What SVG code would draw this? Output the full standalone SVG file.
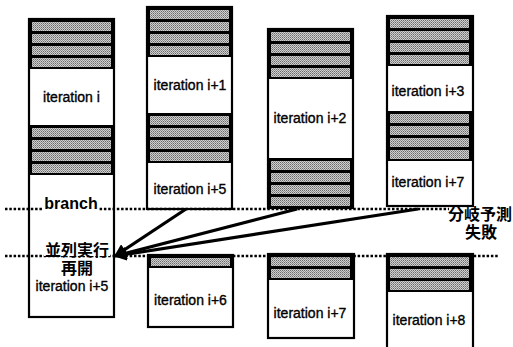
<svg xmlns="http://www.w3.org/2000/svg" xmlns:xlink="http://www.w3.org/1999/xlink" width="513" height="347" viewBox="0 0 513 347">
<style>
.box{fill:#fff;stroke:#000;stroke-width:2.2}
.lbl{font-family:"Liberation Sans",Arial,sans-serif;font-size:14px;fill:#000;text-anchor:middle;stroke:#000;stroke-width:0.35}
.jp{font-family:"Liberation Sans","Noto Sans CJK JP","Noto Sans CJK SC",sans-serif;font-size:16px;font-weight:bold;fill:#000;text-anchor:middle}
.dot{stroke:#000;stroke-width:2.6;stroke-dasharray:2.5 1.8;fill:none}
.arr{stroke:#000;stroke-width:3.2;fill:none;marker-end:url(#ah)}
</style>
<defs>
<pattern id="dots" width="2" height="2" patternUnits="userSpaceOnUse">
<rect width="2" height="2" fill="#d0d0d0"/><rect width="1" height="1" fill="#6a6a6a"/><rect x="1" y="1" width="1" height="1" fill="#909090"/>
</pattern>
<marker id="ah" viewBox="0 0 10 10" refX="9" refY="5" markerWidth="4" markerHeight="4" orient="auto" markerUnits="strokeWidth">
<path d="M0,0 L10,5 L0,10 z" fill="#000"/>
</marker>
<g id="blk1"><rect width="85" height="13" fill="#000"/><rect x="3" y="3" width="79" height="8" fill="url(#dots)"/></g>
<g id="blk2"><rect width="85" height="26" fill="#000"/><rect x="3" y="3" width="79" height="9" fill="url(#dots)"/><rect x="3" y="15" width="79" height="9" fill="url(#dots)"/></g>
<g id="blk3"><rect width="85" height="38" fill="#000"/><rect x="3" y="3" width="79" height="9" fill="url(#dots)"/><rect x="3" y="15" width="79" height="9" fill="url(#dots)"/><rect x="3" y="27" width="79" height="9" fill="url(#dots)"/></g>
<g id="blk4"><rect width="85" height="50" fill="#000"/><rect x="3" y="3" width="79" height="9" fill="url(#dots)"/><rect x="3" y="15" width="79" height="9" fill="url(#dots)"/><rect x="3" y="27" width="79" height="9" fill="url(#dots)"/><rect x="3" y="39" width="79" height="9" fill="url(#dots)"/></g>
</defs>
<rect width="513" height="347" fill="#fff"/>

<g id="col1">
<rect class="box" x="29" y="19" width="85" height="298"/>
<use xlink:href="#blk4" x="29" y="19"/>
<use xlink:href="#blk4" x="29" y="125"/>
<text class="lbl" x="71.5" y="102">iteration i</text>
</g>
<g id="col2">
<rect class="box" x="147" y="7" width="85" height="202"/>
<use xlink:href="#blk4" x="147" y="7"/>
<use xlink:href="#blk4" x="147" y="113"/>
<text class="lbl" x="190" y="90">iteration i+1</text>
<text class="lbl" x="190" y="194">iteration i+5</text>
</g>
<g id="col3">
<rect class="box" x="268" y="29" width="85" height="179"/>
<use xlink:href="#blk4" x="268" y="29"/>
<use xlink:href="#blk4" x="268" y="158"/>
<text class="lbl" x="310" y="123">iteration i+2</text>
</g>
<g id="col4">
<rect class="box" x="387" y="16" width="86" height="190"/>
<use xlink:href="#blk4" x="387" y="16"/>
<use xlink:href="#blk4" x="387" y="111"/>
<text class="lbl" x="428" y="96">iteration i+3</text>
<text class="lbl" x="428" y="187">iteration i+7</text>
</g>
<g id="col2b">
<rect class="box" x="148" y="255" width="85" height="72"/>
<use xlink:href="#blk1" x="148" y="255"/>
<text class="lbl" x="190.5" y="305">iteration i+6</text>
</g>
<g id="col3b">
<rect class="box" x="268" y="254" width="86" height="84"/>
<use xlink:href="#blk2" x="268" y="254"/>
<text class="lbl" x="310" y="318">iteration i+7</text>
</g>
<g id="col4b">
<rect class="box" x="387" y="254" width="86" height="100"/>
<use xlink:href="#blk3" x="387" y="254"/>
<text class="lbl" x="429" y="325">iteration i+8</text>
</g>

<g id="connectors">
<line class="dot" x1="5" y1="209" x2="449" y2="209"/>
<line class="dot" x1="5" y1="256" x2="498" y2="256"/>
<line class="arr" x1="186" y1="209" x2="115" y2="256"/>
<line class="arr" x1="297" y1="209" x2="115" y2="256"/>
<line class="arr" x1="418" y1="209" x2="115" y2="256"/>
</g>

<g id="labels">
<rect x="43" y="196" width="56" height="16" fill="#fff"/>
<text x="71" y="209" font-family="Liberation Sans,Arial,sans-serif" font-size="16" font-weight="bold" text-anchor="middle">branch</text>
<rect x="44" y="242" width="66" height="14" fill="#fff"/>
<text class="jp" x="77" y="256">並列実行</text>
<text class="jp" x="77" y="274">再開</text>
<text class="lbl" x="72" y="291">iteration i+5</text>
<text class="jp" x="480" y="220">分岐予測</text>
<text class="jp" x="481" y="238">失敗</text>
</g>
</svg>
